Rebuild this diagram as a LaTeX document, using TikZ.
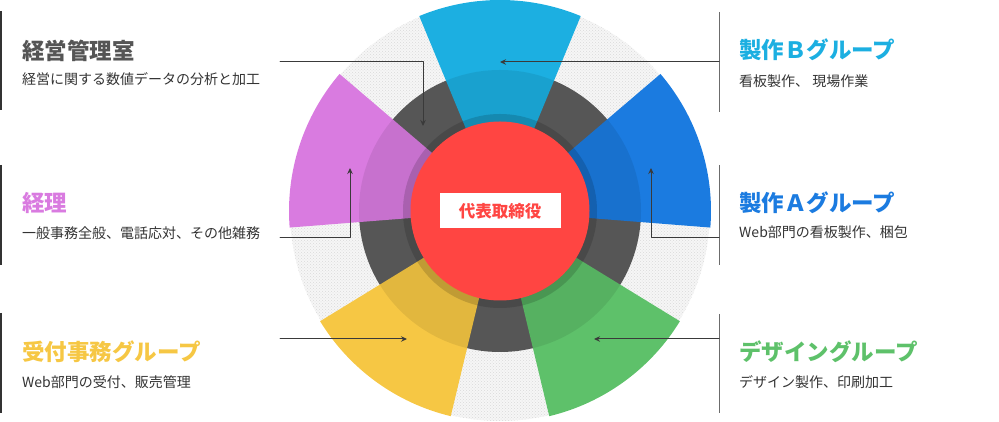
\documentclass[tikz,border=0pt]{standalone}
\usepackage{fontspec}
\setmainfont{Noto Sans CJK JP}
\usetikzlibrary{arrows.meta,patterns,positioning}
\definecolor{groupB}{HTML}{1CAFE1}
\definecolor{groupA}{HTML}{1B7BE0}
\definecolor{keiri}{HTML}{D97BE0}
\definecolor{uketsuke}{HTML}{F6C744}
\definecolor{design}{HTML}{5EC16A}
\definecolor{bossred}{HTML}{FF4542}
\definecolor{ringgray}{HTML}{5E5E5E}
\definecolor{headgray}{HTML}{555555}
\definecolor{txtgray}{HTML}{333333}
\definecolor{linegray}{HTML}{3A3A3A}
\tikzset{
  headnode/.style={anchor=west,inner sep=0pt,font=\bfseries\fontsize{22.5}{22.5}\selectfont},
  subnode/.style={anchor=west,inner sep=0pt,text=txtgray,font=\fontsize{14}{14}\selectfont},
  bossnode/.style={circle,fill=bossred,minimum size=179pt,inner sep=0pt},
  bosslabel/.style={fill=white,minimum width=121pt,minimum height=35pt,inner sep=0pt,
    text=bossred,font=\bfseries\fontsize{16.5}{16.5}\selectfont},
  leftbar/.style={draw=txtgray,line width=2pt,line cap=butt},
  rightbar/.style={draw=gray!85!black,line width=1.6pt,line cap=butt},
  pointer/.style={draw=linegray,line width=1pt,-{Stealth[length=6pt,width=5.5pt]}},
  every picture/.style={line cap=round,line join=round}
}

\begin{document}
\begin{tikzpicture}[x=1pt,y=1pt]
  \useasboundingbox (0,0) rectangle (999,422);
  \coordinate (c) at (500,211);

  % wheel
  \fill[gray!7] (c) circle[radius=210];
  \fill[pattern=crosshatch dots,pattern color=gray!30] (c) circle[radius=210];
  \fill[ringgray] (c) circle[radius=141];
  \foreach \ang/\col in {90/groupB,18/groupA,162/keiri,234/uketsuke,306/design}
    \fill[\col] (c) -- ++(\ang-22.5:211) arc[start angle=\ang-22.5,delta angle=45,radius=211] -- cycle;
  \fill[black,opacity=0.08] (c) circle[radius=141];
  \fill[black,opacity=0.15] (c) circle[radius=97];
  \node[bossnode] (boss) at (c) {};
  \node[bosslabel] (bossname) at (boss) {代表取締役};

  % left side
  \node[headnode,text=headgray] (kanri) at (22,371) {経営管理室};
  \node[subnode] (kanriSub) at ([yshift=-28pt]kanri.west) {経営に関する数値データの分析と加工};
  \node[headnode,text=keiri] (keiriHead) at (22,219) {経理};
  \node[subnode] (keiriSub) at ([yshift=-30pt]keiriHead.west) {一般事務全般、電話応対、その他雑務};
  \node[headnode,text=uketsuke] (uke) at (22,70) {受付事務グループ};
  \node[subnode] (ukeSub) at ([yshift=-30pt]uke.west) {Web部門の受付、販売管理};

  % right side
  \node[headnode,text=groupB] (seisakuB) at (739,372) {製作Ｂグループ};
  \node[subnode] (seisakuBSub) at ([yshift=-31pt]seisakuB.west) {看板製作、\ 現場作業};
  \node[headnode,text=groupA] (seisakuA) at (739,219) {製作Ａグループ};
  \node[subnode] (seisakuASub) at ([yshift=-29pt]seisakuA.west) {Web部門の看板製作、梱包};
  \node[headnode,text=design] (designHead) at (739,70) {デザイングループ};
  \node[subnode] (designSub) at ([yshift=-30pt]designHead.west) {デザイン製作、印刷加工};

  % bars
  \coordinate (lbar1a) at (1,411); \coordinate (lbar1b) at (1,312);
  \coordinate (lbar2a) at (1,257); \coordinate (lbar2b) at (1,157);
  \coordinate (lbar3a) at (1,109); \coordinate (lbar3b) at (1,9);
  \coordinate (rbar1a) at (719.5,410); \coordinate (rbar1b) at (719.5,310);
  \coordinate (rbar2a) at (719.5,257); \coordinate (rbar2b) at (719.5,157);
  \coordinate (rbar3a) at (719.5,108); \coordinate (rbar3b) at (719.5,9);
  \draw[leftbar] (lbar1a) -- (lbar1b);
  \draw[leftbar] (lbar2a) -- (lbar2b);
  \draw[leftbar] (lbar3a) -- (lbar3b);
  \draw[rightbar] (rbar1a) -- (rbar1b);
  \draw[rightbar] (rbar2a) -- (rbar2b);
  \draw[rightbar] (rbar3a) -- (rbar3b);

  % pointers
  \coordinate (kanriFrom) at (280,360);   \coordinate (kanriTo) at (423,296);
  \coordinate (keiriFrom) at (280,184);   \coordinate (keiriTo) at (350,254);
  \coordinate (ukeFrom) at (280,83);      \coordinate (ukeTo) at (407,83);
  \coordinate (seisakuBFrom) at (719,360); \coordinate (seisakuBTo) at (500,360);
  \coordinate (seisakuAFrom) at (719,184); \coordinate (seisakuATo) at (651,254);
  \coordinate (designFrom) at (719,83);   \coordinate (designTo) at (594,83);
  \draw[pointer] (kanriFrom) -| (kanriTo);
  \draw[pointer] (keiriFrom) -| (keiriTo);
  \draw[pointer] (ukeFrom) -- (ukeTo);
  \draw[pointer] (seisakuBFrom) -- (seisakuBTo);
  \draw[pointer] (seisakuAFrom) -| (seisakuATo);
  \draw[pointer] (designFrom) -- (designTo);
\end{tikzpicture}
\end{document}
